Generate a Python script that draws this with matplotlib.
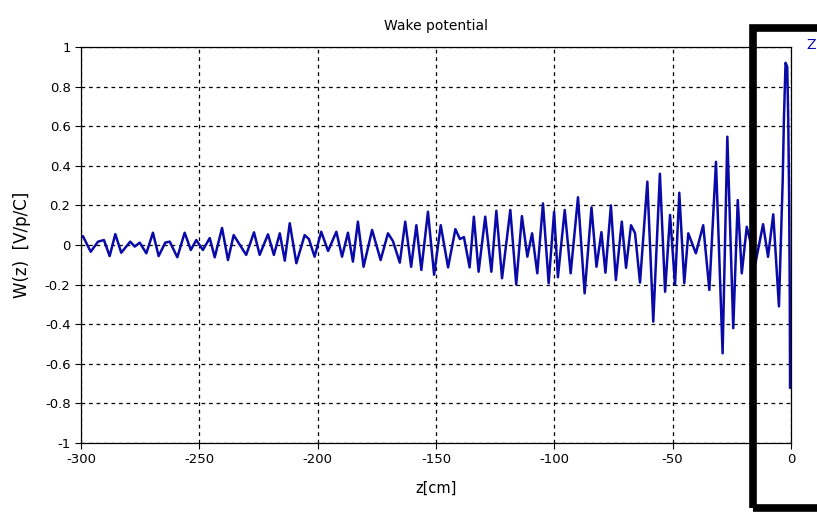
import numpy as np
import matplotlib
matplotlib.use('Agg')
import matplotlib.pyplot as plt
from matplotlib.patches import Rectangle

plt.rcParams['axes.unicode_minus'] = False

# extrema of the wake trace
z = [-299.8, -299.2, -295.9, -292.8, -290.3, -287.9, -285.5, -283.0, -279.2, -277.3,
     -275.2, -272.4, -269.6, -267.2, -264.4, -262.5, -259.3, -256.2, -253.6, -251.3,
     -248.5, -245.6, -243.5, -240.4, -237.9, -235.5, -230.2, -226.9, -224.5, -221.0,
     -218.5, -216.0, -213.9, -211.8, -209.0, -205.5, -203.7, -201.3, -198.5, -195.6,
     -192.1, -189.7, -187.2, -185.1, -183.0, -180.6, -177.0, -173.4, -170.3, -168.2,
     -165.3, -163.0, -160.5, -158.3, -156.2, -153.4, -150.8, -148.0, -144.9, -141.8,
     -139.9, -138.2, -135.8, -134.0, -132.0, -129.2, -126.6, -124.5, -122.1, -118.6,
     -116.1, -113.7, -111.4, -109.4, -107.2, -104.8, -102.4, -100.1, -98.5, -95.6,
     -93.1, -90.0, -87.2, -84.3, -82.2, -80.1, -78.4, -76.1, -74.0, -71.5,
     -69.7, -67.6, -65.9, -63.8, -60.7, -58.2, -55.4, -53.2, -51.1, -49.0,
     -47.2, -45.1, -43.4, -40.2, -37.1, -34.5, -31.7, -28.9, -26.9, -24.4,
     -22.5, -20.8, -18.7, -15.0, -11.8, -9.7, -7.5, -5.1, -3.5, -3.0,
     -2.3, -1.6, -1.2, -0.8, -0.5, -0.4]
w = [0.040, 0.045, -0.034, 0.017, 0.025, -0.056, 0.055, -0.039, 0.017, -0.008,
     0.012, -0.042, 0.062, -0.056, 0.012, 0.017, -0.062, 0.062, -0.025, 0.025,
     -0.025, 0.035, -0.062, 0.086, -0.076, 0.050, -0.050, 0.064, -0.050, 0.054,
     -0.050, 0.059, -0.079, 0.110, -0.092, 0.050, 0.030, -0.059, 0.067, -0.030,
     0.067, -0.059, 0.062, -0.084, 0.118, -0.110, 0.076, -0.076, 0.059, 0.020,
     -0.089, 0.118, -0.110, 0.100, -0.126, 0.168, -0.150, 0.100, -0.113, 0.080,
     0.030, 0.040, -0.113, 0.143, -0.135, 0.143, -0.135, 0.173, -0.168, 0.177,
     -0.200, 0.146, -0.059, 0.059, -0.143, 0.210, -0.193, 0.168, -0.163, 0.177,
     -0.143, 0.241, -0.244, 0.190, -0.110, 0.065, -0.140, 0.200, -0.177, 0.118,
     -0.115, 0.100, 0.060, -0.190, 0.320, -0.387, 0.360, -0.236, 0.152, -0.200,
     0.264, -0.193, 0.059, -0.042, 0.100, -0.227, 0.420, -0.547, 0.547, -0.420,
     0.227, -0.143, 0.092, -0.090, 0.105, -0.060, 0.155, -0.310, 0.330, 0.630,
     0.920, 0.900, 0.660, 0.260, -0.290, -0.720]

xticks = [-300, -250, -200, -150, -100, -50, 0]
yticks = [-1, -0.8, -0.6, -0.4, -0.2, 0, 0.2, 0.4, 0.6, 0.8, 1]
ytick_labels = ['-1', '-0.8', '-0.6', '-0.4', '-0.2', '0', '0.2', '0.4', '0.6', '0.8', '1']

fig = plt.figure(figsize=(8.17, 5.12), dpi=100)
ax = fig.add_axes([81/817, 1-443/512, 710/817, 396/512])
ax.plot(z, w, color='#0a0aa8', lw=1.8)
ax.set_xlim(-300, 0)
ax.set_ylim(-1, 1)
ax.set_xticks(xticks)
ax.set_yticks(yticks)
ax.set_yticklabels(ytick_labels)
ax.tick_params(labelsize=9.5, direction='out', length=4, width=0.8)
ax.grid(True, color='black', linestyle=(0, (3, 3)), lw=0.9)
for s in ax.spines.values():
    s.set_linewidth(0.9)
ax.set_title('Wake potential', fontsize=10, pad=12)
ax.set_xlabel('z[cm]', fontsize=10.5, labelpad=10)
ax.set_ylabel('W(z)  [V/p/C]', fontsize=12, labelpad=10)

# blue legend text cut off at the right edge and the black highlight box
fig.text(806/817, 1-45/512, 'Z', color='#0a0aa8', fontsize=10, va='center', ha='left')
fig.patches.append(Rectangle((753/817, 1-508/512), 80/817, 480/512, transform=fig.transFigure,
                             fill=False, edgecolor='black', lw=5.5))

fig.savefig('out.png', dpi=100)
